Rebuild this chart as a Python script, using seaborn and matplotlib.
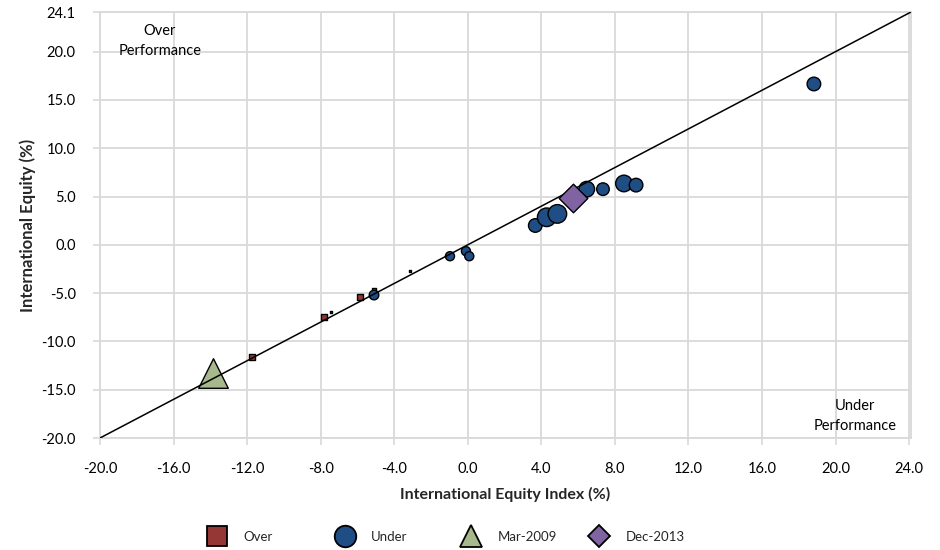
import numpy as np
import pandas as pd
import matplotlib
matplotlib.use("Agg")
import matplotlib.pyplot as plt
import seaborn as sns
from matplotlib.lines import Line2D

# ---------------- data ----------------
over_x = [-11.71, -7.82, -7.45, -5.87, -5.10, -3.14]
over_y = [-11.59, -7.47, -7.00, -5.39, -4.75, -2.71]
over_bubble = [0.56, 0.49, 0.12, 0.53, 0.36, 0.12]

under_x = [-5.10, -0.97, -0.10, 0.08, 3.67, 4.29, 4.87, 6.47, 7.35, 8.49, 9.15, 18.82]
under_y = [-5.20, -1.18, -0.66, -1.18, 2.00, 2.85, 3.20, 5.76, 5.76, 6.35, 6.18, 16.65]
under_bubble = [1.21, 1.10, 1.10, 1.10, 2.25, 4.00, 4.00, 2.89, 1.96, 3.24, 2.25, 2.25]

mar2009_x = [-13.88]
mar2009_y = [-13.30]
mar2009_bubble = [9.6]

dec2013_x = [5.73]
dec2013_y = [4.86]
dec2013_bubble = [9.0]

ref_line = [-20.0, 24.1]

x_ticks = [-20, -16, -12, -8, -4, 0, 4, 8, 12, 16, 20, 24]
y_ticks = [-20, -15, -10, -5, 0, 5, 10, 15, 20, 24.1]
axis_min, axis_max = -20.0, 24.1

series_names = ["Over", "Under", "Mar-2009", "Dec-2013"]
colors = {"Over": "#953735", "Under": "#1F4E85", "Mar-2009": "#A7B98C", "Dec-2013": "#8064A2"}
markers = {"Over": "s", "Under": "o", "Mar-2009": "^", "Dec-2013": "D"}

# ---------------- style ----------------
sns.set_theme(style="white")
plt.rcParams["font.family"] = ["Lato", "DejaVu Sans"]
GRID = "#D9D9D9"

fig = plt.figure(figsize=(9.4, 5.5), dpi=100)
ax = fig.add_axes([100 / 940, 1 - 438 / 550, 811 / 940, 426 / 550])

PX = 0.72  # points per pixel at 100 dpi
EDGE_PX = 1.4


def bubble_to_s(vals, marker):
    d = 10 * np.sqrt(np.asarray(vals, dtype=float)) - EDGE_PX  # visual width in px
    if marker == "D":
        d = d / np.sqrt(2)
    return (np.clip(d, 1.5, None) * PX) ** 2


frames = {
    "Over": pd.DataFrame({"x": over_x, "y": over_y, "b": over_bubble}),
    "Under": pd.DataFrame({"x": under_x, "y": under_y, "b": under_bubble}),
    "Mar-2009": pd.DataFrame({"x": mar2009_x, "y": mar2009_y, "b": mar2009_bubble}),
    "Dec-2013": pd.DataFrame({"x": dec2013_x, "y": dec2013_y, "b": dec2013_bubble}),
}

zorders = {"Over": 3, "Under": 3, "Mar-2009": 3, "Dec-2013": 6}
for name in series_names:
    df = frames[name]
    sns.scatterplot(data=df, x="x", y="y", ax=ax, marker=markers[name],
                    s=bubble_to_s(df["b"], markers[name]),
                    color=colors[name], edgecolor="black", linewidth=1.0,
                    zorder=zorders[name], legend=False)

sns.lineplot(x=ref_line, y=ref_line, ax=ax, color="black", linewidth=1.1,
             zorder=5, legend=False)

ax.set_xlim(axis_min, axis_max)
ax.set_ylim(axis_min, axis_max)
ax.set_xticks(x_ticks)
ax.set_yticks(y_ticks)
ax.set_xticklabels([f"{v:.1f}" for v in x_ticks])
ax.set_yticklabels([f"{v:.1f}" for v in y_ticks])
ax.grid(True, color=GRID, linewidth=1.3, zorder=0)
ax.set_axisbelow(True)
for sp in ax.spines.values():
    sp.set_color(GRID)
    sp.set_linewidth(1.3)
ax.tick_params(axis="both", which="major", direction="out", length=5, width=1.2,
               color=GRID, labelsize=10.5, labelcolor="black")
ax.tick_params(axis="x", pad=12, bottom=True)
ax.tick_params(axis="y", pad=12.5, left=True)

ax.set_xlabel("International Equity Index (%)", fontsize=11.5, fontweight="bold", labelpad=8.5)
ax.set_ylabel("International Equity (%)", fontsize=12, fontweight="bold", labelpad=4)

ax.text(-16.74, 21.05, "Over\nPerformance", ha="center", va="center", fontsize=10.5,
        linespacing=1.55, color="black")
ax.text(21.05, -17.75, "Under\nPerformance", ha="center", va="center", fontsize=10.5,
        linespacing=1.55, color="black")

# ---------------- legend ----------------
leg_sizes = {"Over": 14, "Under": 15.5, "Mar-2009": 15.5, "Dec-2013": 11}
leg_x = [217, 345, 471, 599]
for name, xc in zip(series_names, leg_x):
    h = Line2D([], [], linestyle="none", marker=markers[name], markersize=leg_sizes[name],
               markerfacecolor=colors[name], markeredgecolor="black", markeredgewidth=1.3)
    fig.legend(handles=[h], labels=[name], loc="center left",
               bbox_to_anchor=((xc - 10) / 940, 1 - 537 / 550), frameon=False,
               borderpad=0, borderaxespad=0, handlelength=1.5, handletextpad=1.25,
               fontsize=9.5)

fig.savefig("out.png", dpi=100)
